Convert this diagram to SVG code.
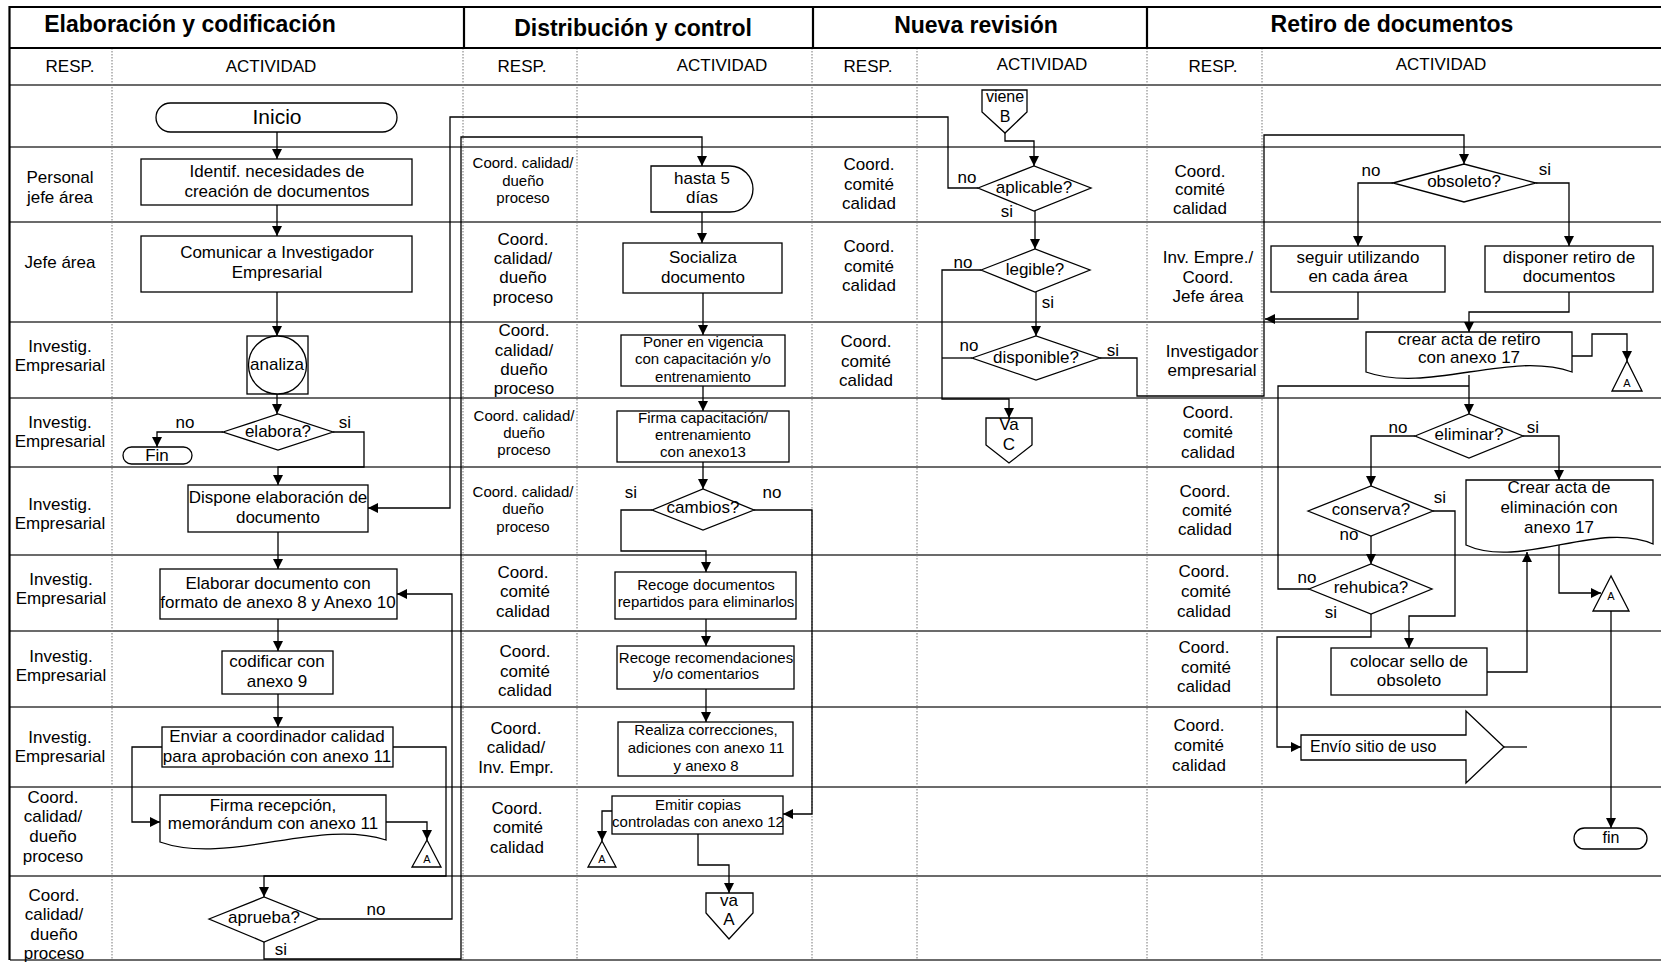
<svg xmlns="http://www.w3.org/2000/svg" width="1661" height="962" viewBox="0 0 1661 962">
<defs>
<marker id="arr" markerUnits="userSpaceOnUse" markerWidth="12" markerHeight="12" refX="10" refY="5" orient="auto">
<path d="M0,0 L10,5 L0,10 Z" fill="#000"/>
</marker>
<style>
text{font-family:"Liberation Sans",Arial,sans-serif;fill:#000;text-anchor:middle}
.ti{font-size:23px;font-weight:bold}
.f17{font-size:17px}
.f16{font-size:16px}
.f15{font-size:15px}
.f11{font-size:11px}
.st{text-anchor:start}
.sh{fill:#fff;stroke:#000;stroke-width:1.3}
.row{stroke:#3a3a3a;stroke-width:1.5}
.dot{stroke:#777;stroke-width:1;stroke-dasharray:1.5,1.5}
.frame{stroke:#000;stroke-width:2.2;fill:none}
.cn{fill:none;stroke:#000;stroke-width:1.3}
.ca{fill:none;stroke:#000;stroke-width:1.3;marker-end:url(#arr)}
</style>
</defs>
<rect width="1661" height="962" fill="#fff"/>

<g id="grid">
<line class="row" x1="10" y1="85" x2="1661" y2="85"/>
<line class="row" x1="10" y1="147" x2="1661" y2="147"/>
<line class="row" x1="10" y1="222" x2="1661" y2="222"/>
<line class="row" x1="10" y1="322" x2="1661" y2="322"/>
<line class="row" x1="10" y1="398" x2="1661" y2="398"/>
<line class="row" x1="10" y1="467" x2="1661" y2="467"/>
<line class="row" x1="10" y1="555" x2="1661" y2="555"/>
<line class="row" x1="10" y1="631" x2="1661" y2="631"/>
<line class="row" x1="10" y1="707" x2="1661" y2="707"/>
<line class="row" x1="10" y1="787" x2="1661" y2="787"/>
<line class="row" x1="10" y1="876" x2="1661" y2="876"/>
<line class="row" x1="10" y1="960" x2="1661" y2="960"/>
<line class="dot" x1="112" y1="48" x2="112" y2="960"/>
<line class="dot" x1="463" y1="48" x2="463" y2="960"/>
<line class="dot" x1="577" y1="48" x2="577" y2="960"/>
<line class="dot" x1="812" y1="48" x2="812" y2="960"/>
<line class="dot" x1="917" y1="48" x2="917" y2="960"/>
<line class="dot" x1="1147" y1="48" x2="1147" y2="960"/>
<line class="dot" x1="1262" y1="48" x2="1262" y2="960"/>
<path class="frame" d="M1661,7 H9.5 V960 M9.5,48 H1661 M464,7 V48 M813,7 V48 M1147,7 V48"/>
<text class="ti" x="190" y="32">Elaboración y codificación</text>
<text class="ti" x="633" y="36">Distribución y control</text>
<text class="ti" x="976" y="33">Nueva revisión</text>
<text class="ti" x="1392" y="32">Retiro de documentos</text>
<text class="f17" x="70" y="72">RESP.</text>
<text class="f17" x="271" y="72">ACTIVIDAD</text>
<text class="f17" x="522" y="72">RESP.</text>
<text class="f17" x="722" y="71">ACTIVIDAD</text>
<text class="f17" x="868" y="72">RESP.</text>
<text class="f17" x="1042" y="70">ACTIVIDAD</text>
<text class="f17" x="1213" y="72">RESP.</text>
<text class="f17" x="1441" y="70">ACTIVIDAD</text>
</g>

<g id="resp-lane1" class="f17">
<text class="f17" x="60" y="183">Personal</text><text class="f17" x="60" y="203">jefe área</text>
<text class="f17" x="60" y="268">Jefe área</text>
<text class="f17" x="60" y="352">Investig.</text><text class="f17" x="60" y="371">Empresarial</text>
<text class="f17" x="60" y="428">Investig.</text><text class="f17" x="60" y="447">Empresarial</text>
<text class="f17" x="60" y="510">Investig.</text><text class="f17" x="60" y="529">Empresarial</text>
<text class="f17" x="61" y="585">Investig.</text><text class="f17" x="61" y="604">Empresarial</text>
<text class="f17" x="61" y="662">Investig.</text><text class="f17" x="61" y="681">Empresarial</text>
<text class="f17" x="60" y="743">Investig.</text><text class="f17" x="60" y="762">Empresarial</text>
<text class="f17" x="53" y="803">Coord.</text><text class="f17" x="53" y="822">calidad/</text><text class="f17" x="53" y="842">dueño</text><text class="f17" x="53" y="862">proceso</text>
<text class="f17" x="54" y="901">Coord.</text><text class="f17" x="54" y="920">calidad/</text><text class="f17" x="54" y="940">dueño</text><text class="f17" x="54" y="959">proceso</text>
</g>

<g id="resp-lane2">
<text class="f15" x="523" y="168">Coord. calidad/</text><text class="f15" x="523" y="186">dueño</text><text class="f15" x="523" y="203">proceso</text>
<text class="f17" x="523" y="245">Coord.</text><text class="f17" x="523" y="264">calidad/</text><text class="f17" x="523" y="283">dueño</text><text class="f17" x="523" y="303">proceso</text>
<text class="f17" x="524" y="336">Coord.</text><text class="f17" x="524" y="356">calidad/</text><text class="f17" x="524" y="375">dueño</text><text class="f17" x="524" y="394">proceso</text>
<text class="f15" x="524" y="421">Coord. calidad/</text><text class="f15" x="524" y="438">dueño</text><text class="f15" x="524" y="455">proceso</text>
<text class="f15" x="523" y="497">Coord. calidad/</text><text class="f15" x="523" y="514">dueño</text><text class="f15" x="523" y="532">proceso</text>
<text class="f17" x="523" y="578">Coord.</text><text class="f17" x="525" y="597">comité</text><text class="f17" x="523" y="617">calidad</text>
<text class="f17" x="525" y="657">Coord.</text><text class="f17" x="525" y="677">comité</text><text class="f17" x="525" y="696">calidad</text>
<text class="f17" x="516" y="734">Coord.</text><text class="f17" x="516" y="753">calidad/</text><text class="f17" x="516" y="773">Inv. Empr.</text>
<text class="f17" x="517" y="814">Coord.</text><text class="f17" x="518" y="833">comité</text><text class="f17" x="517" y="853">calidad</text>
</g>

<g id="resp-lane3">
<text class="f17" x="869" y="170">Coord.</text><text class="f17" x="869" y="190">comité</text><text class="f17" x="869" y="209">calidad</text>
<text class="f17" x="869" y="252">Coord.</text><text class="f17" x="869" y="272">comité</text><text class="f17" x="869" y="291">calidad</text>
<text class="f17" x="866" y="347">Coord.</text><text class="f17" x="866" y="367">comité</text><text class="f17" x="866" y="386">calidad</text>
</g>

<g id="resp-lane4">
<text class="f17" x="1200" y="177">Coord.</text><text class="f17" x="1200" y="195">comité</text><text class="f17" x="1200" y="214">calidad</text>
<text class="f17" x="1208" y="263">Inv. Empre./</text><text class="f17" x="1208" y="283">Coord.</text><text class="f17" x="1208" y="302">Jefe área</text>
<text class="f17" x="1212" y="357">Investigador</text><text class="f17" x="1212" y="376">empresarial</text>
<text class="f17" x="1208" y="418">Coord.</text><text class="f17" x="1208" y="438">comité</text><text class="f17" x="1208" y="458">calidad</text>
<text class="f17" x="1205" y="497">Coord.</text><text class="f17" x="1207" y="516">comité</text><text class="f17" x="1205" y="535">calidad</text>
<text class="f17" x="1204" y="577">Coord.</text><text class="f17" x="1206" y="597">comité</text><text class="f17" x="1204" y="617">calidad</text>
<text class="f17" x="1204" y="653">Coord.</text><text class="f17" x="1206" y="673">comité</text><text class="f17" x="1204" y="692">calidad</text>
<text class="f17" x="1199" y="731">Coord.</text><text class="f17" x="1199" y="751">comité</text><text class="f17" x="1199" y="771">calidad</text>
</g>

<g id="connectors">
<path class="ca" d="M277,132 V159"/>
<path class="ca" d="M277,205 V236"/>
<path class="ca" d="M277,292 V336"/>
<path class="ca" d="M277,394 V414"/>
<path class="ca" d="M223,432 H157 V447"/>
<path class="ca" d="M333,432 H364 V467 H278 V485"/>
<path class="ca" d="M278,532 V569"/>
<path class="ca" d="M278,619 V651"/>
<path class="ca" d="M278,694 V727"/>
<path class="ca" d="M162,747 H132 V822 H160"/>
<path class="ca" d="M386,822 H427 V840"/>
<path class="ca" d="M393,747 H446 V876 H264 V897"/>
<path class="ca" d="M319,919 H452 V594 H397"/>
<path class="ca" d="M264,942 V959 H461 V137 H702 V166"/>
<path class="ca" d="M702,212 V243"/>
<path class="ca" d="M703,293 V335"/>
<path class="ca" d="M703,386 V411"/>
<path class="ca" d="M703,462 V489"/>
<path class="ca" d="M652,510 H621 V551 H706 V572"/>
<path class="ca" d="M706,619 V646"/>
<path class="ca" d="M706,689 V722"/>
<path class="ca" d="M754,510 H812 V814 H783"/>
<path class="ca" d="M612,811 H602 V841"/>
<path class="ca" d="M698,834 V865 H729 V893"/>
<path class="ca" d="M1005,133 V141 H1034 V166"/>
<path class="ca" d="M978,188 H948 V117 H450 V508 H368"/>
<path class="ca" d="M1035,211 V249"/>
<path class="ca" d="M1036,292 V336"/>
<path class="ca" d="M981,270 H942 V399 H1009 V418"/>
<path class="cn" d="M972,358 H942"/>
<path class="ca" d="M1100,358 H1137 V396 H1264 V135 H1464 V164"/>
<path class="ca" d="M1393,183 H1358 V246"/>
<path class="ca" d="M1536,183 H1569 V246"/>
<path class="ca" d="M1358,292 V319 H1265"/>
<path class="ca" d="M1569,292 V312 H1469 V332"/>
<path class="ca" d="M1572,356 H1592 V334 H1627 V361"/>
<path class="ca" d="M1469,375 V414"/>
<path class="ca" d="M1415,436 H1371 V486"/>
<path class="ca" d="M1523,436 H1559 V480"/>
<path class="ca" d="M1433,511 H1455 V616 H1409 V648"/>
<path class="ca" d="M1371,536 V564"/>
<path class="cn" d="M1309,589 H1278 V386 H1469"/>
<path class="ca" d="M1371,614 V637 H1277 V747 H1301"/>
<path class="ca" d="M1487,672 H1527 V552"/>
<path class="cn" d="M1504,747 H1527"/>
<path class="ca" d="M1559,545 V593 H1601"/>
<path class="ca" d="M1611,611 V828"/>
<text class="f17" x="185" y="428">no</text>
<text class="f17" x="345" y="428">si</text>
<text class="f17" x="376" y="915">no</text>
<text class="f17" x="281" y="955">si</text>
<text class="f17" x="631" y="498">si</text>
<text class="f17" x="772" y="498">no</text>
<text class="f17" x="967" y="183">no</text>
<text class="f17" x="1007" y="217">si</text>
<text class="f17" x="963" y="268">no</text>
<text class="f17" x="1048" y="308">si</text>
<text class="f17" x="969" y="351">no</text>
<text class="f17" x="1113" y="356">si</text>
<text class="f17" x="1371" y="176">no</text>
<text class="f17" x="1545" y="175">si</text>
<text class="f17" x="1398" y="433">no</text>
<text class="f17" x="1533" y="433">si</text>
<text class="f17" x="1440" y="503">si</text>
<text class="f17" x="1349" y="540">no</text>
<text class="f17" x="1307" y="583">no</text>
<text class="f17" x="1331" y="618">si</text>
</g>

<g id="inicio"><rect class="sh" x="156" y="103" width="241" height="29" rx="14.5"/><text class="f17" style="font-size:21px" x="277" y="124">Inicio</text></g>
<g id="identif"><rect class="sh" x="141" y="159" width="271" height="46"/><text class="f17" x="277" y="177">Identif. necesidades de</text><text class="f17" x="277" y="197">creación de documentos</text></g>
<g id="comunicar"><rect class="sh" x="141" y="236" width="271" height="56"/><text class="f17" x="277" y="258">Comunicar a Investigador</text><text class="f17" x="277" y="278">Empresarial</text></g>
<g id="analiza"><rect class="sh" x="247" y="336" width="61" height="58"/><circle class="sh" cx="277.5" cy="365" r="29"/><text class="f17" x="277" y="370">analiza</text></g>
<g id="elabora"><polygon class="sh" points="223,432 278,414 333,432 278,450"/><text class="f17" x="278" y="437">elabora?</text></g>
<g id="fin1"><rect class="sh" x="123" y="447" width="69" height="17" rx="8.5"/><text class="f17" x="157" y="461">Fin</text></g>
<g id="dispone"><rect class="sh" x="188" y="485" width="180" height="47"/><text class="f17" x="278" y="503">Dispone elaboración de</text><text class="f17" x="278" y="523">documento</text></g>
<g id="elaborar"><rect class="sh" x="160" y="569" width="237" height="50"/><text class="f17" x="278" y="589">Elaborar documento con</text><text class="f17" x="278" y="608">formato de anexo 8 y Anexo 10</text></g>
<g id="codificar"><rect class="sh" x="222" y="651" width="111" height="43"/><text class="f17" x="277" y="667">codificar con</text><text class="f17" x="277" y="687">anexo 9</text></g>
<g id="enviar"><rect class="sh" x="162" y="727" width="231" height="40"/><text class="f17" x="277" y="742">Enviar a coordinador calidad</text><text class="f17" x="277" y="762">para aprobación con anexo 11</text></g>
<g id="firma-recepcion"><path class="sh" d="M160,795 H386 V840 C318,818 228,866 160,842 Z"/><text class="f17" x="273" y="811">Firma recepción,</text><text class="f17" x="273" y="829">memorándum con anexo 11</text></g>
<g id="conector-a1"><polygon class="sh" points="427,840 412,867 441,867"/><text class="f11" x="427" y="863">A</text></g>
<g id="aprueba"><polygon class="sh" points="209,919 264,897 319,919 264,942"/><text class="f17" x="264" y="923">aprueba?</text></g>

<g id="hasta5"><path class="sh" d="M651,166 H730 A23,23 0 0 1 730,212 H651 Z"/><text class="f17" x="702" y="184">hasta 5</text><text class="f17" x="702" y="203">días</text></g>
<g id="socializa"><rect class="sh" x="623" y="243" width="159" height="50"/><text class="f17" x="703" y="263">Socializa</text><text class="f17" x="703" y="283">documento</text></g>
<g id="poner"><rect class="sh" x="621" y="335" width="164" height="51"/><text class="f15" x="703" y="347">Poner en vigencia</text><text class="f15" x="703" y="364">con capacitación y/o</text><text class="f15" x="703" y="382">entrenamiento</text></g>
<g id="firma-cap"><rect class="sh" x="617" y="411" width="172" height="51"/><text class="f15" x="703" y="423">Firma capacitación/</text><text class="f15" x="703" y="440">entrenamiento</text><text class="f15" x="703" y="457">con anexo13</text></g>
<g id="cambios"><polygon class="sh" points="652,510 703,489 754,510 703,530"/><text class="f17" x="703" y="513">cambios?</text></g>
<g id="recoge-docs"><rect class="sh" x="615" y="572" width="181" height="47"/><text class="f15" x="706" y="590">Recoge documentos</text><text class="f15" x="706" y="607">repartidos para eliminarlos</text></g>
<g id="recoge-rec"><rect class="sh" x="617" y="646" width="177" height="43"/><text class="f15" x="706" y="663">Recoge recomendaciones</text><text class="f15" x="706" y="679">y/o comentarios</text></g>
<g id="realiza"><rect class="sh" x="618" y="722" width="175" height="54"/><text class="f15" x="706" y="735">Realiza correcciones,</text><text class="f15" x="706" y="753">adiciones con anexo 11</text><text class="f15" x="706" y="771">y anexo 8</text></g>
<g id="emitir"><rect class="sh" x="612" y="796" width="171" height="38"/><text class="f15" x="698" y="810">Emitir copias</text><text class="f15" x="698" y="827">controladas con anexo 12</text></g>
<g id="conector-a2"><polygon class="sh" points="602,841 588,867 616,867"/><text class="f11" x="602" y="863">A</text></g>
<g id="va-a"><path class="sh" d="M706,893 H753 V913 L729,939 L706,913 Z"/><text class="f17" x="729" y="906">va</text><text class="f17" x="729" y="925">A</text></g>

<g id="viene-b"><path class="sh" d="M982,90 H1027 V112 L1005,133 L982,112 Z"/><text class="f16" x="1005" y="102">viene</text><text class="f16" x="1005" y="122">B</text></g>
<g id="aplicable"><polygon class="sh" points="978,188 1034,166 1091,188 1034,211"/><text class="f17" x="1034" y="193">aplicable?</text></g>
<g id="legible"><polygon class="sh" points="981,270 1035,249 1090,270 1035,292"/><text class="f17" x="1035" y="275">legible?</text></g>
<g id="disponible"><polygon class="sh" points="972,358 1036,336 1100,358 1036,380"/><text class="f17" x="1036" y="363">disponible?</text></g>
<g id="va-c"><path class="sh" d="M986,418 H1032 V445 L1009,463 L986,445 Z"/><text class="f17" x="1009" y="430">Va</text><text class="f17" x="1009" y="450">C</text></g>

<g id="obsoleto"><polygon class="sh" points="1393,183 1464,164 1536,183 1464,202"/><text class="f17" x="1464" y="187">obsoleto?</text></g>
<g id="seguir"><rect class="sh" x="1271" y="246" width="174" height="46"/><text class="f17" x="1358" y="263">seguir utilizando</text><text class="f17" x="1358" y="282">en cada área</text></g>
<g id="disponer"><rect class="sh" x="1485" y="246" width="168" height="46"/><text class="f17" x="1569" y="263">disponer retiro de</text><text class="f17" x="1569" y="282">documentos</text></g>
<g id="crear-retiro"><path class="sh" d="M1366,332 H1572 V372 C1510,350 1428,394 1366,372 Z"/><text class="f17" x="1469" y="345">crear acta de retiro</text><text class="f17" x="1469" y="363">con anexo 17</text></g>
<g id="conector-a3"><polygon class="sh" points="1627,361 1612,391 1642,391"/><text class="f11" x="1627" y="387">A</text></g>
<g id="eliminar"><polygon class="sh" points="1415,436 1469,414 1523,436 1469,458"/><text class="f17" x="1469" y="440">eliminar?</text></g>
<g id="conserva"><polygon class="sh" points="1308,511 1371,486 1433,511 1371,536"/><text class="f17" x="1371" y="515">conserva?</text></g>
<g id="crear-eliminacion"><path class="sh" d="M1466,480 H1653 V544 C1600,520 1520,570 1466,545 Z"/><text class="f17" x="1559" y="493">Crear acta de</text><text class="f17" x="1559" y="513">eliminación con</text><text class="f17" x="1559" y="533">anexo 17</text></g>
<g id="rehubica"><polygon class="sh" points="1309,589 1371,564 1432,589 1371,614"/><text class="f17" x="1371" y="593">rehubica?</text></g>
<g id="conector-a4"><polygon class="sh" points="1611,576 1593,611 1629,611"/><text class="f11" x="1611" y="600">A</text></g>
<g id="colocar"><rect class="sh" x="1331" y="648" width="156" height="47"/><text class="f17" x="1409" y="667">colocar sello de</text><text class="f17" x="1409" y="686">obsoleto</text></g>
<g id="envio"><path class="sh" d="M1301,735 H1466 V711 L1504,747 L1466,783 V760 H1301 Z"/><text class="f16 st" x="1310" y="752">Envío sitio de uso</text></g>
<g id="fin2"><rect class="sh" x="1574" y="828" width="73" height="21" rx="10.5"/><text class="f16" x="1611" y="843">fin</text></g>
</svg>
